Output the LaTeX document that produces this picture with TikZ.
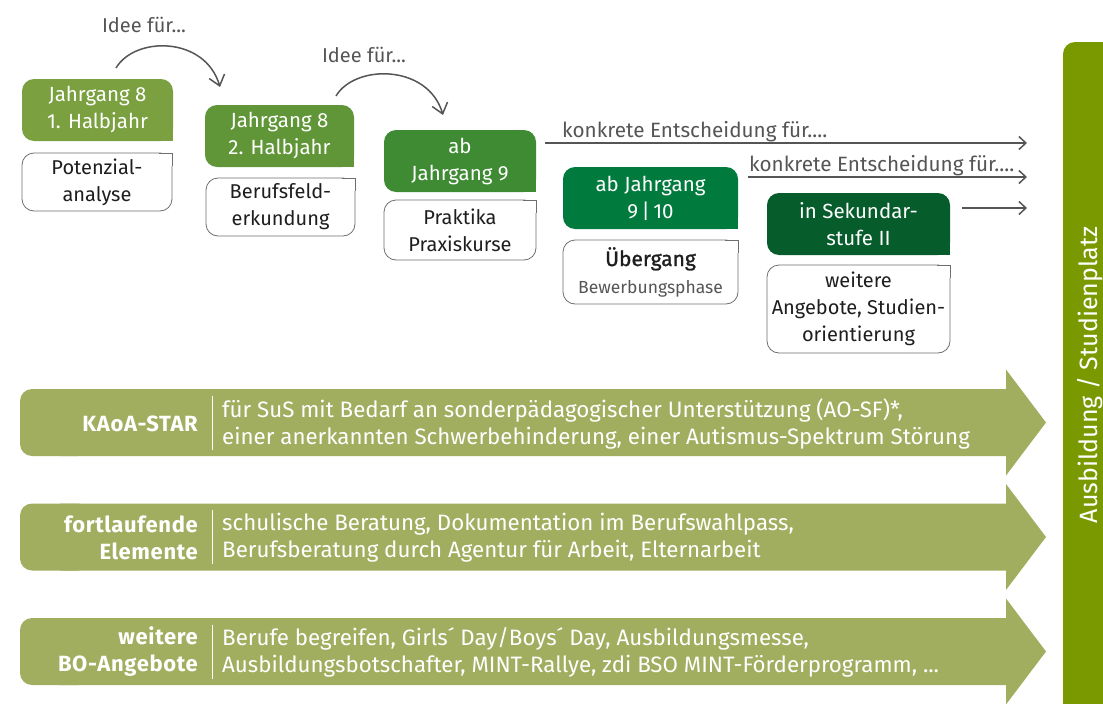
\documentclass[tikz,border=0pt]{standalone}
\usepackage{fontspec}
\setmainfont{Fira Sans}
\newfontfamily\halbfett[FakeBold=1.2]{Fira Sans}
\usepackage{tikz}
\usetikzlibrary{arrows.meta,positioning,calc,backgrounds}
\tikzset{>=latex}
\definecolor{jg1}{RGB}{122,160,64}
\definecolor{jg2}{RGB}{96,150,56}
\definecolor{jg3}{RGB}{62,139,52}
\definecolor{jg4}{RGB}{0,122,61}
\definecolor{jg5}{RGB}{6,92,42}
\definecolor{pfeil}{RGB}{161,174,96}
\definecolor{balken}{RGB}{122,153,0}
\definecolor{grau}{RGB}{85,85,85}
\definecolor{rahmen}{RGB}{110,110,110}
\definecolor{schrift}{RGB}{30,30,30}
\tikzset{
  hdr/.style={fill=#1, text=white, rounded corners=12pt, align=center, inner sep=0pt, outer sep=0pt,
    minimum height=62pt, font=\fontsize{20.5}{27}\selectfont},
  wbox/.style={draw=rahmen, line width=0.8pt, fill=white, rounded corners=12pt, align=center, inner sep=0pt,
    outer sep=0pt, text=schrift, font=\fontsize{20}{27}\selectfont},
  grautxt/.style={text=grau, inner sep=0pt, font=\fontsize{20}{24}\selectfont},
  blab/.style={text=white, align=right, inner sep=0pt,
    font=\bfseries\fontsize{22}{27}\selectfont\addfontfeatures{LetterSpace=3}},
  btxt/.style={text=white, align=left, inner sep=0pt, font=\fontsize{22.3}{27}\selectfont},
  bogen/.style={draw=grau, line width=1.5pt, -{Straight Barb[length=10pt,width=16pt]}},
  gerade/.style={draw=grau, line width=1.5pt, -{Straight Barb[length=7pt,width=13pt]}}
}
\begin{document}
\begin{tikzpicture}[x=1pt,y=-1pt]
\clip (0,0) rectangle (1103,704);

\node[hdr=jg1, minimum width=151pt] (h1) at (97.5,110) {Jahrgang 8\\1. Halbjahr};
\node[wbox, minimum width=150pt, minimum height=58pt] (w1) at (97,182) {Potenzial-\\analyse};
\node[hdr=jg2, minimum width=149pt] (h2) at (279.5,136) {Jahrgang 8\\2. Halbjahr};
\node[wbox, minimum width=149pt, minimum height=58pt] (w2) at (280.5,207) {Berufsfeld-\\erkundung};
\node[hdr=jg3, minimum width=152pt] (h3) at (460,161) {ab\\Jahrgang 9};
\node[wbox, minimum width=152pt, minimum height=60pt] (w3) at (460,230) {Praktika\\Praxiskurse};
\node[hdr=jg4, minimum width=175pt] (h4) at (650.5,198) {ab Jahrgang\\9\,|\,10};
\node[wbox, minimum width=175pt, minimum height=64pt] (w4) at (650.5,272)
  {{\halbfett\fontsize{21}{26}\selectfont Übergang}\\{\color{grau}\fontsize{17.5}{21}\selectfont Bewerbungsphase}};
\node[hdr=jg5, minimum width=183pt] (h5) at (858.5,224) {in Sekundar-\\stufe II};
\node[wbox, minimum width=183pt, minimum height=88pt] (w5) at (858.5,309) {weitere\\Angebote, Studien-\\orientierung};

\begin{scope}[on background layer]
\foreach \n/\c in {h1/jg1,h2/jg2,h3/jg3,h4/jg4,h5/jg5}
  \fill[\c] (\n.center) rectangle (\n.south east);
\end{scope}
\foreach \n in {w1,w2,w3,w4,w5}{
  \fill[white] ([xshift=-13pt,yshift=-0.5pt]\n.north east) rectangle ([xshift=-0.5pt,yshift=-13pt]\n.north east);
  \draw[rahmen, line width=0.8pt] ([xshift=-13pt]\n.north east) -- (\n.north east) -- ([yshift=-13pt]\n.north east);
}

\node[grautxt] (idee1) at (144,25) {Idee für...};
\node[grautxt] (idee2) at (364,55) {Idee für...};
\coordinate (i1a) at (116,68);
\coordinate (i1b) at (220,87);
\coordinate (i2a) at (336,96);
\coordinate (i2b) at (443,115);
\draw[bogen] (i1a) .. controls (135,36) and (205,36) .. (i1b);
\draw[bogen] (i2a) .. controls (355,64) and (428,64) .. (i2b);

\coordinate (k1) at (1027,143);
\coordinate (k2) at (1027,177);
\coordinate (k3) at (1027,208);
\draw[gerade] ([xshift=9pt]h3.east |- k1) -- (k1);
\draw[gerade] ([xshift=10pt]h4.east |- k2) -- (k2);
\draw[gerade] ([xshift=12pt]h5.east |- k3) -- (k3);
\node[grautxt, anchor=base west, font=\fontsize{20.7}{24}\selectfont] (ke1) at (562,137) {konkrete Entscheidung für....};
\node[grautxt, anchor=base west, font=\fontsize{20.7}{24}\selectfont] (ke2) at (749,171) {konkrete Entscheidung für....};

\foreach \m in {422.5,537,651.5}{
  \fill[pfeil, rounded corners=12pt] (20,\m-33.5) rectangle (90,\m+33.5);
  \fill[pfeil] (60,\m-33.5) -- (1006,\m-33.5) -- (1006,\m-53) -- (1046,\m) -- (1006,\m+53)
    -- (1006,\m+33.5) -- (60,\m+33.5) -- cycle;
  \draw[white, line width=0.8pt] (212,\m-27) -- (212,\m+27);
}
\node[blab, anchor=east] (s1) at (198,424) {KAoA-STAR};
\node[btxt, anchor=west] (t1) at (222,424) {für SuS mit Bedarf an sonderpädagogischer Unterstützung (AO-SF)*,\\einer anerkannten Schwerbehinderung, einer Autismus-Spektrum Störung};
\node[blab, anchor=east] (s2) at (198,538) {fortlaufende\\Elemente};
\node[btxt, anchor=west] (t2) at (222,538) {schulische Beratung, Dokumentation im Berufswahlpass,\\Berufsberatung durch Agentur für Arbeit, Elternarbeit};
\node[blab, anchor=east] (s3) at (198,652) {weitere\\BO-Angebote};
\node[btxt, anchor=west] (t3) at (222,652) {Berufe begreifen, Girls´ Day/Boys´ Day, Ausbildungsmesse,\\Ausbildungsbotschafter, MINT-Rallye, zdi BSO MINT-Förderprogramm, ...};

\fill[balken, rounded corners=12pt] (1063,42) rectangle (1120,120);
\fill[balken] (1063,80) rectangle (1120,704);
\node[rotate=90, text=white, inner sep=0pt, font=\fontsize{25}{30}\selectfont] (ziel) at (1090,375) {Ausbildung / Studienplatz};
\end{tikzpicture}
\end{document}
